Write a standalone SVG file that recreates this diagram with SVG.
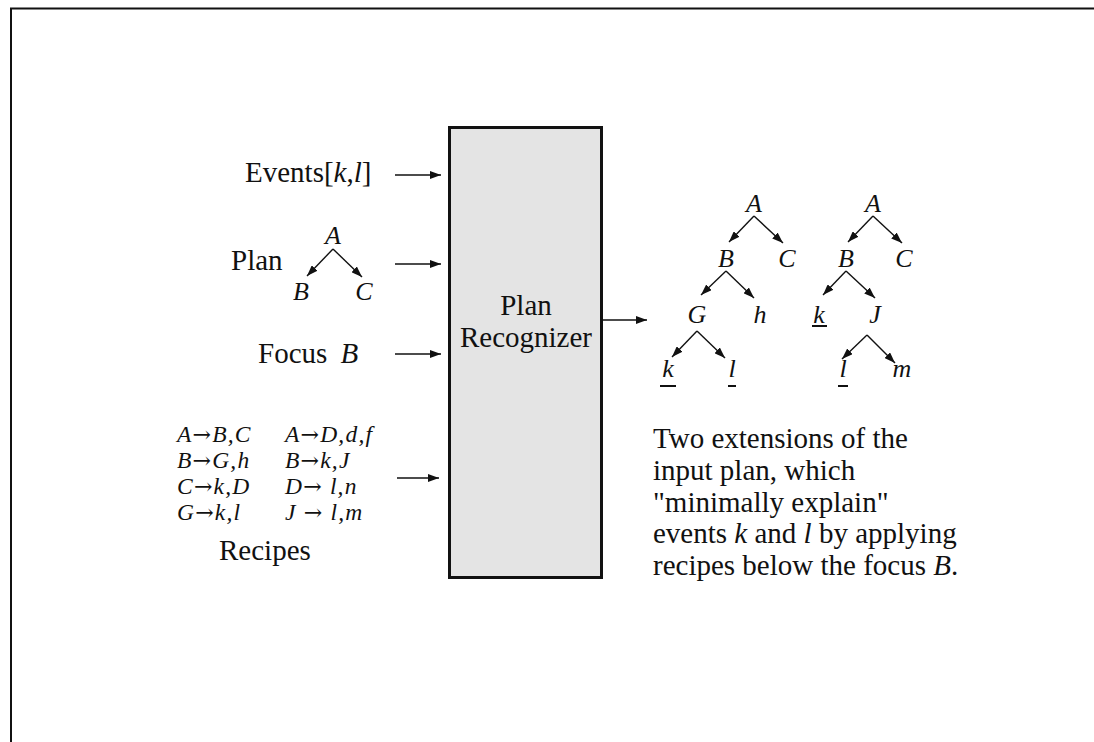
<svg xmlns="http://www.w3.org/2000/svg" width="1094" height="742" viewBox="0 0 1094 742">
<style>
text{font-family:"Liberation Serif","Times New Roman",serif;fill:#111}
.big{font-size:29px}
.m{font-size:26px;font-style:italic}
.r{font-size:23.5px;font-style:italic;letter-spacing:1.2px}
.a{font-family:"DejaVu Serif",serif;font-style:normal;font-size:22px}
.i{font-style:italic}
.ln{stroke:#111;stroke-width:1.4;fill:none}
.ar{stroke:#111;stroke-width:1.6;fill:none}
.ul{stroke:#111;stroke-width:2}
</style>
<defs>
<marker id="ah" viewBox="0 0 11 8" refX="11" refY="4" markerWidth="11" markerHeight="8" markerUnits="userSpaceOnUse" orient="auto">
<path d="M0,0 L11,4 L0,8 Z" fill="#111"/>
</marker>
</defs>
<g id="frame">
<path d="M11,742 V8.5 H1094" stroke="#111" stroke-width="2" fill="none"/>
</g>
<g id="recognizer">
<rect x="449.5" y="127.5" width="152" height="450" fill="#e4e4e4" stroke="#111" stroke-width="3"/>
<text class="big" x="526" y="315" text-anchor="middle">Plan</text>
<text class="big" x="526" y="347" text-anchor="middle">Recognizer</text>
</g>
<g id="events">
<text class="big" x="245" y="182">Events[<tspan class="i">k</tspan>,<tspan class="i">l</tspan>]</text>
</g>
<g id="plan">
<text class="big" x="231" y="270">Plan</text>
<text class="m" x="333" y="244" text-anchor="middle">A</text>
<text class="m" x="301" y="300" text-anchor="middle">B</text>
<text class="m" x="364" y="300" text-anchor="middle">C</text>
<line class="ln" x1="333" y1="249" x2="307" y2="276" marker-end="url(#ah)"/>
<line class="ln" x1="333" y1="249" x2="362" y2="277" marker-end="url(#ah)"/>
</g>
<g id="focus">
<text class="big" x="258" y="363">Focus <tspan class="i" dx="6">B</tspan></text>
</g>
<g id="recipes">
<text class="r" x="177" y="442">A<tspan class="a">→</tspan>B,C</text>
<text class="r" x="285" y="442">A<tspan class="a">→</tspan>D,d,f</text>
<text class="r" x="177" y="468">B<tspan class="a">→</tspan>G,h</text>
<text class="r" x="285" y="468">B<tspan class="a">→</tspan>k,J</text>
<text class="r" x="177" y="494">C<tspan class="a">→</tspan>k,D</text>
<text class="r" x="285" y="494">D<tspan class="a">→</tspan> l,n</text>
<text class="r" x="177" y="520">G<tspan class="a">→</tspan>k,l</text>
<text class="r" x="285" y="520">J <tspan class="a">→</tspan> l,m</text>
<text class="big" x="219" y="560">Recipes</text>
</g>
<g id="tree1">
<text class="m" x="754" y="212" text-anchor="middle">A</text>
<text class="m" x="726" y="267" text-anchor="middle">B</text>
<text class="m" x="787" y="267" text-anchor="middle">C</text>
<text class="m" x="697" y="323" text-anchor="middle">G</text>
<text class="m" x="760" y="323" text-anchor="middle">h</text>
<text class="m" x="668" y="377" text-anchor="middle">k</text>
<text class="m" x="732" y="377" text-anchor="middle">l</text>
<line class="ul" x1="660" y1="386" x2="676" y2="386"/>
<line class="ul" x1="728" y1="386" x2="736" y2="386"/>
<line class="ln" x1="754" y1="216" x2="729" y2="242" marker-end="url(#ah)"/>
<line class="ln" x1="754" y1="216" x2="783" y2="243" marker-end="url(#ah)"/>
<line class="ln" x1="726" y1="271" x2="701" y2="295" marker-end="url(#ah)"/>
<line class="ln" x1="726" y1="271" x2="754" y2="298" marker-end="url(#ah)"/>
<line class="ln" x1="697" y1="331" x2="672" y2="357" marker-end="url(#ah)"/>
<line class="ln" x1="697" y1="331" x2="725" y2="358" marker-end="url(#ah)"/>
</g>
<g id="tree2">
<text class="m" x="873" y="212" text-anchor="middle">A</text>
<text class="m" x="846" y="267" text-anchor="middle">B</text>
<text class="m" x="904" y="267" text-anchor="middle">C</text>
<text class="m" x="819" y="323" text-anchor="middle">k</text>
<text class="m" x="875" y="323" text-anchor="middle">J</text>
<text class="m" x="843" y="377" text-anchor="middle">l</text>
<text class="m" x="902" y="377" text-anchor="middle">m</text>
<line class="ul" x1="812" y1="326" x2="827" y2="326"/>
<line class="ul" x1="838" y1="386" x2="848" y2="386"/>
<line class="ln" x1="873" y1="216" x2="848" y2="242" marker-end="url(#ah)"/>
<line class="ln" x1="873" y1="216" x2="902" y2="243" marker-end="url(#ah)"/>
<line class="ln" x1="846" y1="271" x2="823" y2="295" marker-end="url(#ah)"/>
<line class="ln" x1="846" y1="271" x2="875" y2="298" marker-end="url(#ah)"/>
<line class="ln" x1="867" y1="335" x2="842" y2="359" marker-end="url(#ah)"/>
<line class="ln" x1="867" y1="335" x2="895" y2="363" marker-end="url(#ah)"/>
</g>
<g id="caption">
<text class="big" x="653" y="448">Two extensions of the</text>
<text class="big" x="653" y="480">input plan, which</text>
<text class="big" x="653" y="512">"minimally explain"</text>
<text class="big" x="653" y="543">events <tspan class="i">k</tspan> and <tspan class="i">l</tspan> by applying</text>
<text class="big" x="653" y="575">recipes below the focus <tspan class="i">B</tspan>.</text>
</g>
<g id="connectors">
<line class="ar" x1="395" y1="175" x2="441" y2="175" marker-end="url(#ah)"/>
<line class="ar" x1="395" y1="264" x2="441" y2="264" marker-end="url(#ah)"/>
<line class="ar" x1="395" y1="354" x2="441" y2="354" marker-end="url(#ah)"/>
<line class="ar" x1="397" y1="478" x2="439" y2="478" marker-end="url(#ah)"/>
<line class="ar" x1="602" y1="320" x2="647" y2="320" marker-end="url(#ah)"/>
</g>
</svg>
